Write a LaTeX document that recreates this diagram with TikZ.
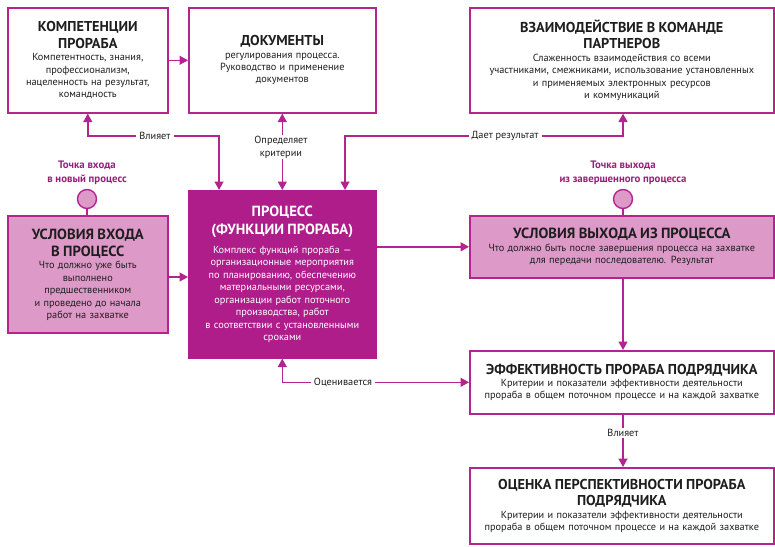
\documentclass[tikz,border=0pt]{standalone}
\usepackage{fontspec}
\setmainfont{PT Sans}
\usetikzlibrary{arrows.meta,calc}
\definecolor{mag}{HTML}{B3248F}
\definecolor{magfill}{HTML}{AE1D8A}
\definecolor{pinkfill}{HTML}{DD9AC8}
\definecolor{txt}{HTML}{1E1E1E}
\definecolor{ptc}{HTML}{9A1F7C}
\newcommand{\ttl}{\bfseries\fontsize{14.3}{16.5}\selectfont}
\newcommand{\bdy}{\mdseries\fontsize{10.3}{12.5}\selectfont}
\tikzset{
 box/.style={draw=mag, line width=1.6pt, fill=white, anchor=north west, inner sep=0pt, align=center, text=txt},
 pinkbox/.style={box, fill=pinkfill},
 procbox/.style={box, fill=magfill, draw=magfill, text=white},
 arr/.style={draw=mag, line width=1.4pt, -{Triangle[length=8.5pt,width=9pt]}},
 arrs/.style={draw=mag, line width=1.4pt, {Triangle[length=8.5pt,width=9pt]}-{Triangle[length=8.5pt,width=9pt]}},
 lbl/.style={fill=white, inner xsep=3pt, inner ysep=1pt, align=center, font=\fontsize{10.3}{13}\selectfont, text=txt},
 ptcirc/.style={circle, draw=mag, fill=pinkfill, line width=1.4pt, minimum size=19pt, inner sep=0pt},
 ptlbl/.style={align=center, font=\bfseries\fontsize{10.8}{13.5}\selectfont, text=ptc}
}
\begin{document}
\begin{tikzpicture}[x=1pt,y=-1pt]
\useasboundingbox (0,0) rectangle (775,546);
% boxes
\node[box, minimum width=160pt, minimum height=105pt, text width=156pt] (komp) at (7,7)
 {{\ttl КОМПЕТЕНЦИИ\\ПРОРАБА\par}\bdy Компетентность, знания,\\профессионализм,\\нацеленность на результат,\\командность};
\node[box, minimum width=187pt, minimum height=105pt, text width=181pt] (doc) at (188,7)
 {{\ttl ДОКУМЕНТЫ\par}\bdy регулирования процесса.\\Руководство и применение\\документов};
\node[box, minimum width=304pt, minimum height=105pt, text width=300pt] (team) at (469,7)
 {{\ttl ВЗАИМОДЕЙСТВИЕ В КОМАНДЕ\\ПАРТНЕРОВ\par}\bdy Слаженность взаимодействия со всеми\\участниками, смежниками, использование установленных\\и применяемых электронных ресурсов\\и коммуникаций};
\node[procbox, minimum width=187pt, minimum height=167pt, text width=183pt] (proc) at (188,190)
 {{\ttl\fontsize{14.7}{18}\selectfont ПРОЦЕСС\\(ФУНКЦИИ ПРОРАБА)\par}\vspace{6pt}\bdy Комплекс функций прораба —\\организационные мероприятия\\по планированию, обеспечению\\материальными ресурсами,\\организации работ поточного\\производства, работ\\в соответствии с установленными\\сроками};
\node[pinkbox, minimum width=160pt, minimum height=117pt, text width=156pt] (entry) at (7,215)
 {{\ttl\fontsize{14.7}{17}\selectfont УСЛОВИЯ ВХОДА\\В ПРОЦЕСС\par}\bdy Что должно уже быть\\выполнено\\предшественником\\и проведено до начала\\работ на захватке};
\node[pinkbox, minimum width=304pt, minimum height=62pt, text width=300pt] (exit) at (469,215)
 {{\ttl\fontsize{14.7}{17}\selectfont УСЛОВИЯ ВЫХОДА ИЗ ПРОЦЕССА\par}\bdy Что должно быть после завершения процесса на захватке\\для передачи последователю. Результат};
\node[box, minimum width=304pt, minimum height=63pt, text width=300pt] (eff) at (469,350)
 {{\ttl ЭФФЕКТИВНОСТЬ ПРОРАБА ПОДРЯДЧИКА\par}\bdy Критерии и показатели эффективности деятельности\\прораба в общем поточном процессе и на каждой захватке};
\node[box, minimum width=304pt, minimum height=76pt, text width=300pt] (oc) at (469,467)
 {{\ttl ОЦЕНКА ПЕРСПЕКТИВНОСТИ ПРОРАБА\\ПОДРЯДЧИКА\par}\bdy Критерии и показатели эффективности деятельности\\прораба в общем поточном процессе и на каждой захватке};
% entry / exit points
\node[ptcirc] (cin) at (87,199) {};
\node[ptcirc] (cout) at (623,199) {};
\node[ptlbl] (cinl) at (87,173) {Точка входа\\в новый процесс};
\node[ptlbl] (coutl) at (623,173) {Точка выхода\\из завершенного процесса};
\draw[mag, line width=1.4pt] (cin.south) -- (cin.south |- entry.north);
\draw[mag, line width=1.4pt] (cout.south) -- (cout.south |- exit.north);
% connectors
\coordinate (v1) at (219,136);
\coordinate (d1) at (345,136);
\coordinate (e1) at (167,277);
\draw[arr] (komp.east) -- (doc.west);
\draw[arrs] (komp.south) |- (v1) -- (v1 |- proc.north);
\draw[arrs] (doc.south) -- (proc.north);
\draw[arrs] (d1 |- proc.north) -- (d1) -| (cout |- team.south);
\draw[arr] (e1) -- (e1 -| proc.west);
\draw[arr] (proc.east |- exit.west) -- (exit.west);
\draw[arr] (cout |- exit.south) -- (cout |- eff.north);
\draw[arrs] (proc.south) |- (eff.west);
\draw[arr] (cout |- eff.south) -- (cout |- oc.north);
% labels
\node[lbl] (lv1) at (155,136) {Влияет};
\node[lbl] (lopr) at (281,147) {Определяет\\критерии};
\node[lbl] (ldr) at (505,136) {Дает результат};
\node[lbl] (locn) at (343,382) {Оценивается};
\node[lbl] (lv2) at (623,433) {Влияет};
\end{tikzpicture}
\end{document}
